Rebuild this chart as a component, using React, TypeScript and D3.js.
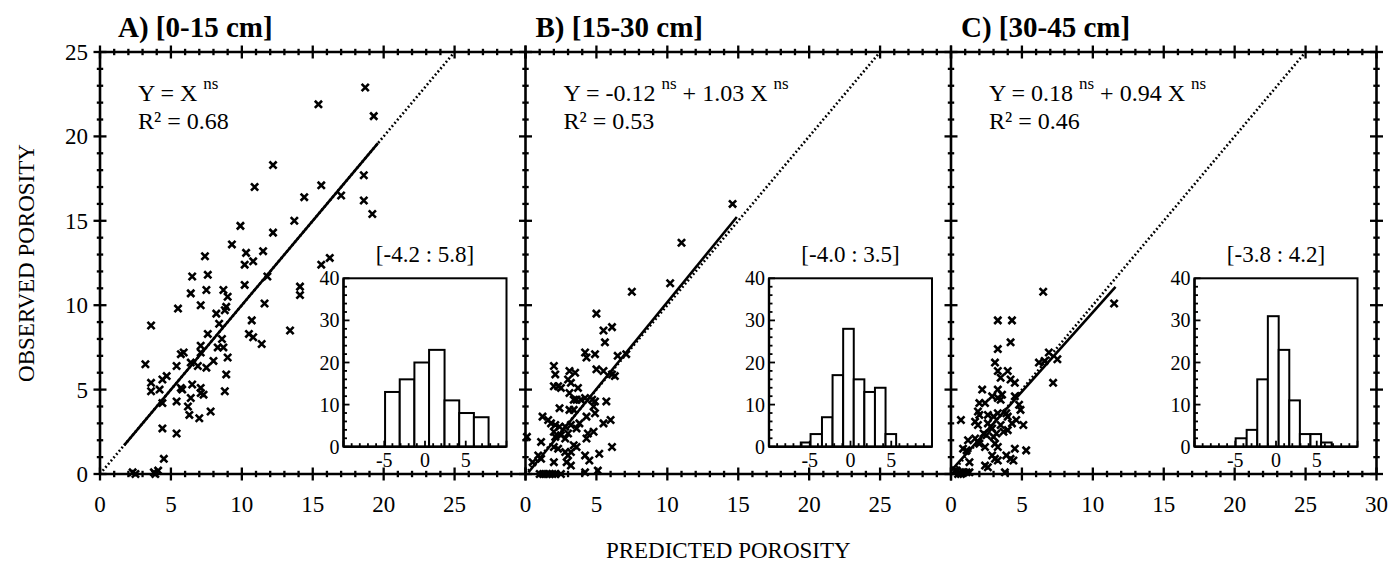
import React, { useEffect } from 'react';
import * as d3 from 'd3';

// ---------------- DATA ----------------
const panelTitles = ['A) [0-15 cm]', 'B) [15-30 cm]', 'C) [30-45 cm]'];
const xTickLabelsA = [0, 5, 10, 15, 20, 25];
const xTickLabelsB = [0, 5, 10, 15, 20, 25];
const xTickLabelsC = [0, 5, 10, 15, 20, 25, 30];
const yTickLabels = [0, 5, 10, 15, 20, 25];
const insetYTicks = [0, 10, 20, 30, 40];
const insetXTicks = [-5, 0, 5];

const pointsA: [number, number][] = [
  [18.7, 22.9], [15.4, 21.9], [19.3, 21.2], [12.2, 18.3], [10.9, 17.0], [15.6, 17.1], [14.4, 16.4], [17.0, 16.5],
  [18.6, 17.7], [18.6, 16.2], [19.2, 15.4], [9.9, 14.7], [13.7, 15.0], [12.2, 14.3], [9.3, 13.6], [7.4, 12.9],
  [10.3, 13.1], [11.5, 13.2], [10.2, 12.4], [10.8, 12.6], [15.6, 12.4], [16.2, 12.8], [6.5, 11.7], [7.6, 11.8],
  [11.8, 11.7], [6.4, 10.7], [7.5, 10.9], [8.7, 10.9], [10.2, 11.2], [14.1, 11.1], [14.1, 10.6], [9.0, 10.5],
  [5.5, 9.8], [7.1, 10.0], [8.8, 9.7], [8.9, 9.9], [11.6, 10.1], [3.6, 8.8], [8.2, 9.5], [8.4, 8.9], [10.7, 9.1],
  [13.4, 8.5], [7.6, 8.3], [10.5, 8.3], [10.8, 8.1], [11.4, 7.7], [8.6, 8.0], [8.7, 7.5], [8.3, 7.5], [7.1, 7.6],
  [7.1, 7.2], [5.7, 7.1], [5.9, 7.2], [6.4, 6.6], [9.0, 6.9], [7.5, 6.3], [8.0, 6.7], [6.9, 6.4], [5.4, 6.4],
  [3.2, 6.5], [4.7, 5.8], [4.4, 5.6], [8.9, 5.9], [3.6, 5.4], [3.6, 4.9], [4.2, 5.0], [4.4, 4.2], [5.7, 5.1],
  [5.8, 5.0], [6.5, 5.3], [7.1, 5.1], [7.3, 4.7], [7.1, 4.8], [6.4, 4.5], [5.4, 4.3], [6.2, 4.0], [6.3, 3.5],
  [7.0, 3.3], [7.8, 3.7], [8.8, 4.9], [4.4, 2.7], [5.4, 2.4], [4.5, 0.9], [2.3, 0.1], [2.5, 0.0], [3.8, 0.1],
  [4.1, 0.2], [3.9, 0.0],
];

const pointsB: [number, number][] = [
  [14.6, 16.0], [11.0, 13.7], [10.2, 11.3], [7.5, 10.8], [5.0, 9.5], [5.5, 8.5], [6.1, 8.7], [5.6, 7.8], [4.2, 7.2],
  [4.3, 6.9], [4.9, 7.1], [6.5, 7.0], [7.1, 7.1], [2.0, 6.4], [2.1, 5.9], [3.1, 6.1], [3.5, 6.0], [5.0, 6.2],
  [5.5, 6.1], [6.1, 5.9], [6.3, 5.8], [2.0, 5.2], [2.3, 5.2], [2.5, 5.1], [3.0, 5.6], [3.2, 5.4], [3.7, 5.1],
  [3.1, 4.8], [3.4, 4.4], [3.6, 4.4], [3.9, 4.4], [4.2, 4.5], [4.7, 4.4], [4.9, 4.3], [5.7, 4.3], [2.4, 3.9],
  [3.1, 3.8], [3.4, 3.8], [4.8, 4.0], [4.9, 3.6], [1.2, 3.4], [1.6, 3.2], [1.8, 3.0], [2.1, 2.9], [2.4, 2.8],
  [2.8, 2.8], [3.2, 2.9], [3.6, 2.7], [3.8, 3.0], [4.3, 3.4], [5.5, 3.0], [6.0, 3.2], [2.0, 2.5], [2.1, 2.2],
  [2.5, 2.3], [2.8, 2.1], [3.0, 2.4], [4.4, 2.4], [4.8, 2.5], [4.3, 2.1], [0.1, 2.2], [1.1, 1.9], [2.0, 1.6],
  [2.3, 1.5], [3.4, 1.7], [3.6, 1.6], [2.8, 1.3], [3.0, 1.1], [3.2, 1.3], [6.1, 1.6], [0.9, 1.1], [1.1, 0.9],
  [2.0, 0.7], [2.9, 0.7], [3.2, 0.5], [4.2, 1.1], [4.5, 0.8], [5.2, 1.2], [0.5, 0.7], [1.0, 0.0], [1.25, 0.0],
  [1.5, 0.0], [1.7, 0.0], [1.9, 0.0], [2.1, 0.0], [2.5, 0.0], [4.2, 0.1], [5.1, 0.2],
];

const pointsC: [number, number][] = [
  [6.5, 10.8], [11.5, 10.1], [3.3, 9.1], [4.3, 9.1], [4.2, 7.8], [3.3, 7.4], [3.1, 6.6], [6.2, 6.6], [6.9, 7.2],
  [6.6, 6.7], [7.5, 6.8], [7.2, 5.4], [3.3, 6.1], [3.5, 5.7], [4.0, 6.1], [4.2, 5.6], [4.5, 5.4], [2.2, 5.0],
  [2.9, 4.6], [3.3, 4.5], [3.5, 4.4], [4.5, 4.6], [4.8, 4.1], [4.9, 3.8], [2.0, 4.2], [2.4, 4.2], [1.9, 3.7],
  [2.0, 3.5], [2.6, 3.5], [3.0, 3.4], [3.3, 3.6], [3.9, 3.6], [4.0, 3.4], [1.7, 3.1], [1.9, 2.9], [2.6, 3.0],
  [2.9, 2.7], [3.5, 2.9], [4.3, 3.0], [4.6, 3.2], [5.1, 2.9], [0.7, 3.2], [2.3, 2.4], [2.5, 2.3], [3.0, 2.2],
  [3.2, 2.4], [3.7, 2.5], [4.0, 2.6], [1.2, 2.0], [1.7, 2.1], [1.9, 1.9], [0.85, 1.5], [1.1, 1.4], [2.0, 1.8],
  [2.4, 1.6], [3.1, 1.8], [3.3, 1.6], [4.5, 1.5], [5.3, 1.4], [2.9, 1.1], [3.1, 0.9], [3.3, 0.8], [3.9, 1.1],
  [4.2, 0.9], [4.4, 0.8], [2.4, 0.5], [2.6, 0.4], [1.3, 0.7], [0.4, 0.2], [0.6, 0.1], [0.85, 0.1], [1.1, 0.1],
  [1.3, 0.1], [0.5, 0.0], [0.7, 0.0], [3.8, 0.1], [0.3, 0.2], [3.3, 5.0], [3.6, 4.7],
];

const fitIntercepts = [0, -0.12, 0.18];
const fitSlopes = [1, 1.03, 0.94];
const fitStarts = [1.7, 0.2, 0.0];
const fitEnds = [19.6, 14.9, 11.6];
const eqParts: [string, string][][] = [
  [['Y = X ', 'ns']],
  [['Y = -0.12 ', 'ns'], [' + 1.03 X ', 'ns']],
  [['Y = 0.18 ', 'ns'], [' + 0.94 X ', 'ns']],
];
const r2Values = ['0.68', '0.53', '0.46'];

const histRanges = ['[-4.2 : 5.8]', '[-4.0 : 3.5]', '[-3.8 : 4.2]'];
const histEdgesA = [-4.9, -3.1, -1.3, 0.5, 2.4, 4.2, 6.0, 7.8];
const histCountsA = [13, 16, 20, 23, 11, 8, 7];
const histEdgesB = [-6.1, -4.9, -3.5, -2.2, -0.9, 0.4, 1.7, 3.0, 4.3, 5.6];
const histCountsB = [1, 3, 7, 17, 28, 16, 13, 14, 3];
const histEdgesC = [-4.95, -3.6, -2.3, -1.0, 0.33, 1.63, 2.93, 4.23, 5.53, 6.83];
const histCountsC = [2, 4, 16, 31, 23, 11, 3, 3, 1];

// ---------------- LAYOUT ----------------
const W = 1396;
const H = 566;
const plotLeft = 100;
const panelW = 425.5;
const yTop = 52;
const yBottom = 474;
const FONT = "'Liberation Serif', 'Times New Roman', Times, serif";

const panels = [
  { pts: pointsA, edges: histEdgesA, counts: histCountsA, xLabels: xTickLabelsA },
  { pts: pointsB, edges: histEdgesB, counts: histCountsB, xLabels: xTickLabelsB },
  { pts: pointsC, edges: histEdgesC, counts: histCountsC, xLabels: xTickLabelsC },
];

const yScale = d3.scaleLinear().domain([0, 25]).range([yBottom, yTop]);
const insetY = d3.scaleLinear().domain([0, 40]).range([446.7, 278.3]);

function Cross({ x, y }: { x: number; y: number }) {
  const s = 3.6;
  return (
    <path
      d={`M${x - s},${y - s}L${x + s},${y + s}M${x - s},${y + s}L${x + s},${y - s}`}
      stroke="#000"
      strokeWidth={2.6}
      fill="none"
    />
  );
}

function Panel({ i }: { i: number }) {
  const p = panels[i];
  const left = plotLeft + i * panelW;
  const right = left + panelW;
  const xScale = d3.scaleLinear().domain([0, 30]).range([left, right]);
  const insetX = d3.scaleLinear().domain([-10, 10]).range([right - 182, right - 19]);
  const xUnits = d3.range(0, 31);
  const yUnits = d3.range(0, 26);
  const iyUnits = d3.range(0, 41, 2);
  const ixUnits = d3.range(-10, 11);
  const a = fitIntercepts[i];
  const b = fitSlopes[i];
  const line = d3
    .line<number>()
    .x((v) => xScale(v))
    .y((v) => yScale(a + b * v));
  const oneToOne = d3
    .line<number>()
    .x((v) => xScale(v))
    .y((v) => yScale(v));
  const insetL = insetX(-10);
  const insetR = insetX(10);
  const iy0 = insetY(0);
  const iy40 = insetY(40);

  const eq = eqParts[i];
  return (
    <g>
      <text x={left + (i === 0 ? 18 : 10)} y={37} fontFamily={FONT} fontWeight="bold" fontSize={29}>
        {panelTitles[i]}
      </text>
      <line x1={left} x2={right} y1={yBottom} y2={yBottom} stroke="#000" strokeWidth={2.6} />
      <line x1={left} x2={right} y1={yTop} y2={yTop} stroke="#000" strokeWidth={2.6} />
      <line x1={left} x2={left} y1={yTop} y2={yBottom} stroke="#000" strokeWidth={2.6} />
      {i === 2 && <line x1={right} x2={right} y1={yTop} y2={yBottom} stroke="#000" strokeWidth={2.6} />}
      {xUnits.map((v) => {
        const x = xScale(v);
        const L = v % 5 === 0 ? 6.5 : 3.2;
        return (
          <g key={'xt' + v}>
            <line x1={x} x2={x} y1={yBottom - L} y2={yBottom + L} stroke="#000" strokeWidth={2.3} />
            <line x1={x} x2={x} y1={yTop - L} y2={yTop + L} stroke="#000" strokeWidth={2.3} />
          </g>
        );
      })}
      {yUnits.map((v) => {
        const y = yScale(v);
        const L = v % 5 === 0 ? 6.5 : 3.2;
        return (
          <g key={'yt' + v}>
            <line x1={left - L} x2={left + L} y1={y} y2={y} stroke="#000" strokeWidth={2.3} />
            {i === 2 && <line x1={right - L} x2={right + L} y1={y} y2={y} stroke="#000" strokeWidth={2.3} />}
          </g>
        );
      })}
      {p.xLabels.map((v) => (
        <text key={'xl' + v} x={xScale(v)} y={512} textAnchor="middle" fontFamily={FONT} fontSize={23}>
          {v}
        </text>
      ))}
      {i === 0 &&
        yTickLabels.map((v) => (
          <text key={'yl' + v} x={left - 12} y={yScale(v)} dy="0.35em" textAnchor="end" fontFamily={FONT} fontSize={23}>
            {v}
          </text>
        ))}
      <path d={oneToOne([0, 25]) || ''} stroke="#000" strokeWidth={2.6} strokeDasharray="1.8,2.4" fill="none" />
      <path d={line([fitStarts[i], fitEnds[i]]) || ''} stroke="#000" strokeWidth={2.6} fill="none" />
      {p.pts.map((d, k) => (
        <Cross key={'p' + k} x={xScale(d[0])} y={yScale(d[1])} />
      ))}
      <text x={left + 38} y={101} fontFamily={FONT} fontSize={24} style={{ whiteSpace: 'pre' }}>
        {eq.map((part, k) => (
          <React.Fragment key={k}>
            <tspan dy={k === 0 ? 0 : 12}>{part[0]}</tspan>
            <tspan dy={-12} fontSize={17}>
              {part[1]}
            </tspan>
          </React.Fragment>
        ))}
      </text>
      <text x={left + 38} y={129} fontFamily={FONT} fontSize={24}>
        {'R² = ' + r2Values[i]}
      </text>
      <text x={(insetL + insetR) / 2} y={262} textAnchor="middle" fontFamily={FONT} fontSize={23}>
        {histRanges[i]}
      </text>
      <rect x={insetL} y={iy40} width={insetR - insetL} height={iy0 - iy40} fill="#fff" stroke="#000" strokeWidth={2} />
      {p.counts.map((c, k) => (
        <rect
          key={'h' + k}
          x={insetX(p.edges[k])}
          y={insetY(c)}
          width={insetX(p.edges[k + 1]) - insetX(p.edges[k])}
          height={iy0 - insetY(c)}
          fill="#fff"
          stroke="#000"
          strokeWidth={2}
        />
      ))}
      {iyUnits.map((v) => (
        <line
          key={'iy' + v}
          x1={insetL}
          x2={insetL + (v % 10 === 0 ? 6 : 3.5)}
          y1={insetY(v)}
          y2={insetY(v)}
          stroke="#000"
          strokeWidth={1.8}
        />
      ))}
      {ixUnits.map((v) => (
        <line
          key={'ix' + v}
          x1={insetX(v)}
          x2={insetX(v)}
          y1={iy0}
          y2={iy0 - (v % 5 === 0 ? 6 : 3.5)}
          stroke="#000"
          strokeWidth={1.8}
        />
      ))}
      <line x1={insetL} x2={insetR} y1={iy0} y2={iy0} stroke="#000" strokeWidth={2.4} />
      <line x1={insetL} x2={insetL} y1={iy40} y2={iy0} stroke="#000" strokeWidth={2.4} />
      {insetYTicks.map((v) => (
        <text key={'iyl' + v} x={insetL - 4} y={insetY(v)} dy="0.35em" textAnchor="end" fontFamily={FONT} fontSize={20}>
          {v}
        </text>
      ))}
      {insetXTicks.map((v) => (
        <text key={'ixl' + v} x={insetX(v)} y={467} textAnchor="middle" fontFamily={FONT} fontSize={20}>
          {v}
        </text>
      ))}
    </g>
  );
}

export default function App() {
  useEffect(() => {
    document.body.style.margin = '0';
  }, []);
  return (
    <svg
      width={W}
      height={H}
      viewBox={`0 0 ${W} ${H}`}
      style={{ position: 'absolute', left: 0, top: 0, background: '#fff' }}
    >
      <rect x={0} y={0} width={W} height={H} fill="#fff" />
      {[0, 1, 2].map((i) => (
        <Panel key={i} i={i} />
      ))}
      <text x={plotLeft + (panelW * 3) / 2 - 10} y={558} textAnchor="middle" fontFamily={FONT} fontSize={23}>
        PREDICTED POROSITY
      </text>
      <text
        transform={`translate(34, ${(yTop + yBottom) / 2}) rotate(-90)`}
        textAnchor="middle"
        fontFamily={FONT}
        fontSize={23}
      >
        OBSERVED POROSITY
      </text>
    </svg>
  );
}
